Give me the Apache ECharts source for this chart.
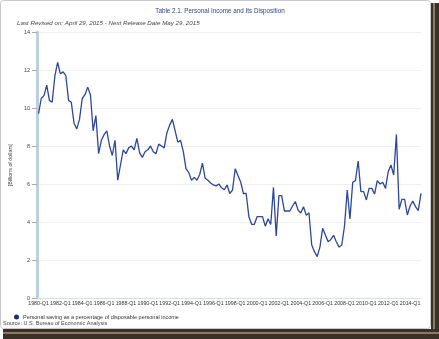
<!DOCTYPE html>
<html><head><meta charset="utf-8">
<script src="https://cdn.jsdelivr.net/npm/echarts@6/dist/echarts.min.js"></script>
<style>html,body{margin:0;padding:0;background:#fff}#c{width:439px;height:339px}</style>
</head><body><div id="c"></div>
<script>
const startYear = 1980, endYear = 2015;
const categories = [];
for (let y = startYear; y <= endYear; y++) for (let q = 1; q <= 4; q++) { if (y === endYear && q > 1) break; categories.push(y + '-Q' + q); }
const savingRate = [
 9.7,10.5,10.65,11.2,10.4,10.3,11.7,12.4,11.8,11.9,
 11.7,10.4,10.3,9.2,8.9,9.4,10.5,10.7,11.1,10.7,
 8.8,9.6,7.6,8.3,8.6,8.8,8.0,7.5,8.3,6.2,
 7.0,7.8,7.6,7.9,8.0,7.8,8.4,7.65,7.4,7.7,
 7.8,8.0,7.7,7.6,8.1,8.0,7.9,8.7,9.1,9.4,
 8.8,8.2,8.3,7.7,6.8,6.6,6.2,6.35,6.2,6.5,
 7.1,6.3,6.2,6.05,5.95,5.9,6.0,5.8,5.7,5.95,
 5.5,5.68,6.8,6.45,6.1,5.5,5.5,4.28,3.88,3.88,
 4.28,4.28,4.28,3.78,4.17,3.87,5.82,3.26,5.39,5.39,
 4.58,4.58,4.58,4.84,5.08,4.63,4.47,4.8,4.35,4.49,
 2.79,2.44,2.18,2.68,3.67,3.32,2.96,3.08,3.3,2.96,
 2.68,2.79,3.79,5.68,4.16,6.09,6.18,7.21,5.6,5.6,
 5.16,5.77,5.77,5.47,6.18,6.0,6.09,5.77,6.65,7.0,
 6.47,8.61,4.67,5.19,5.19,4.37,4.84,5.1,4.81,4.6,
 5.51
];
const seriesName = 'Personal saving as a percentage of disposable personal income';
const titleText = 'Table 2.1. Personal Income and Its Disposition';
const subtitleText = 'Last Revised on: April 29, 2015 - Next Release Date May 29, 2015';
const sourceText = 'Source: U.S. Bureau of Economic Analysis';
const yAxisName = '[Billions of dollars]';

const chart = echarts.init(document.getElementById('c'), null, {renderer: 'canvas'});
const F = 'Arial, "Liberation Sans", sans-serif';
chart.setOption({
  backgroundColor: '#fff',
  animation: false,
  graphic: [
    {type: 'rect', z: -10, silent: true, shape: {x: 431, y: 3, width: 8, height: 336}, style: {fill: '#3a3226'}},
    {type: 'rect', z: -10, silent: true, shape: {x: 433, y: 3, width: 2, height: 336}, style: {fill: '#8a7c66'}},
    {type: 'rect', z: -10, silent: true, shape: {x: 3, y: 329, width: 436, height: 10}, style: {fill: '#3a3226'}},
    {type: 'rect', z: -10, silent: true, shape: {x: 3, y: 332, width: 436, height: 2}, style: {fill: '#8a7c66'}},
    {type: 'rect', z: -9, silent: true, shape: {x: 0.5, y: 0.5, width: 430, height: 328, r: 3}, style: {fill: '#fff', stroke: '#c9c9c9', lineWidth: 1}},
    {type: 'text', silent: true, left: 3, top: 320, style: {text: sourceText, fontSize: 5.5, fontFamily: F, fill: '#444'}}
  ],
  title: [
    {text: titleText, left: 215, textAlign: 'center', top: 3, textStyle: {fontSize: 6.3, fontWeight: 'normal', color: '#2f3f8f', fontFamily: F}},
    {text: subtitleText, left: 12, top: 15, textStyle: {fontSize: 6.2, fontWeight: 'normal', fontStyle: 'italic', color: '#444', fontFamily: F}}
  ],
  legend: {
    left: 9, top: 309, icon: 'circle', itemWidth: 5, itemHeight: 5, itemGap: 4,
    textStyle: {fontSize: 5.5, color: '#333', fontFamily: F, padding: [0,0,0,-1]},
    data: [seriesName]
  },
  grid: {left: 27, right: 18, top: 32, bottom: 41},
  xAxis: {
    type: 'category', data: categories, boundaryGap: false,
    axisLine: {lineStyle: {color: '#d6e0ea', width: 1}},
    axisTick: {show: false},
    axisLabel: {interval: 7, fontSize: 5.3, color: '#333', margin: 3, fontFamily: F},
    splitLine: {show: false}
  },
  yAxis: {
    type: 'value', min: 0, max: 14, interval: 2, offset: 1.5,
    name: yAxisName, nameLocation: 'middle', nameGap: 18, nameRotate: 90,
    nameTextStyle: {fontSize: 5.3, color: '#444', fontFamily: F},
    axisLine: {show: true, lineStyle: {color: '#bcd0e4', width: 3}},
    axisTick: {show: true, length: 5, lineStyle: {color: '#aaa'}},
    axisLabel: {fontSize: 5.5, color: '#444', margin: 7, fontFamily: F},
    splitLine: {lineStyle: {color: '#efefef', width: 1}}
  },
  series: [{
    name: seriesName, type: 'line', data: savingRate,
    showSymbol: false, symbol: 'circle', symbolSize: 2,
    itemStyle: {color: '#1f2f7a'},
    lineStyle: {color: '#2c479c', width: 1.3}
  }]
});
</script></body></html>
